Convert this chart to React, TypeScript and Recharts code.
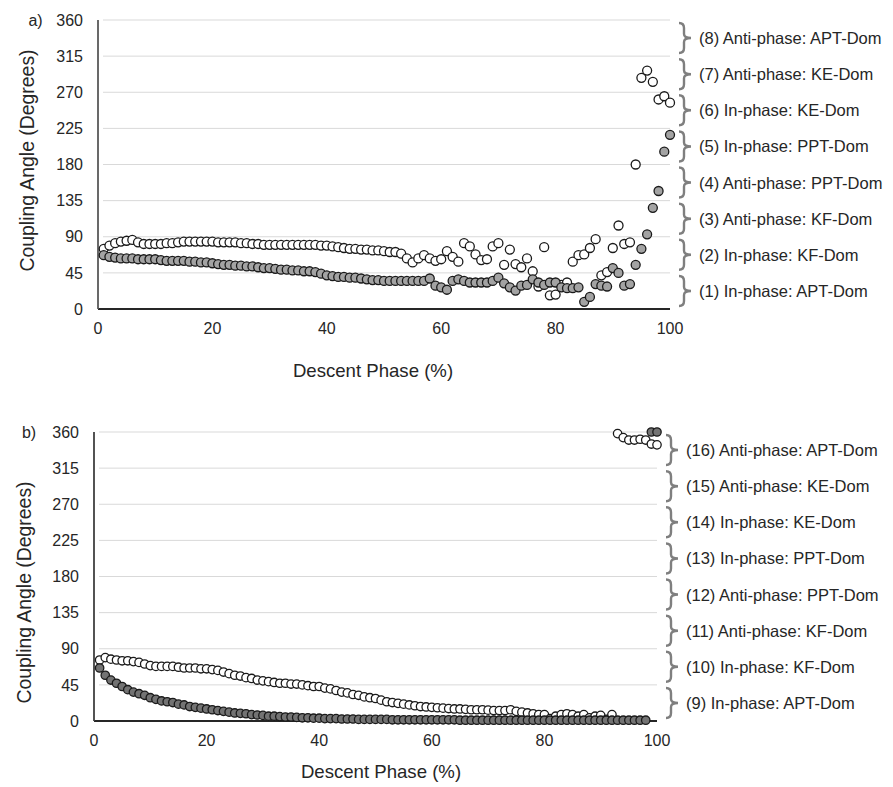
import { ScatterChart, Scatter, XAxis, YAxis, CartesianGrid, Label, ReferenceLine } from 'recharts';

// descent phase, 1% steps
const PHASE = Array.from({ length: 100 }, (_, i) => i + 1);

const PHASE_TICKS = [0, 20, 40, 60, 80, 100];
const ANGLE_TICKS = [0, 45, 90, 135, 180, 225, 270, 315, 360];
const BAND_MIDS = [22.5, 67.5, 112.5, 157.5, 202.5, 247.5, 292.5, 337.5];

const BANDS_A = [
  '(1) In-phase: APT-Dom',
  '(2) In-phase: KF-Dom',
  '(3) Anti-phase: KF-Dom',
  '(4) Anti-phase: PPT-Dom',
  '(5) In-phase: PPT-Dom',
  '(6) In-phase: KE-Dom',
  '(7) Anti-phase: KE-Dom',
  '(8) Anti-phase: APT-Dom',
];
const BANDS_B = [
  '(9) In-phase: APT-Dom',
  '(10) In-phase: KF-Dom',
  '(11) Anti-phase: KF-Dom',
  '(12) Anti-phase: PPT-Dom',
  '(13) In-phase: PPT-Dom',
  '(14) In-phase: KE-Dom',
  '(15) Anti-phase: KE-Dom',
  '(16) Anti-phase: APT-Dom',
];

// panel a
const WHITE_A = [
  75, 79, 82, 84, 85, 86, 83, 81, 81, 81,
  81, 82, 82, 83, 84, 84, 84, 84, 84, 84,
  83, 83, 83, 83, 82, 82, 81, 81, 80, 80,
  80, 80, 80, 80, 80, 80, 80, 80, 79, 79,
  78, 77, 76, 75, 75, 74, 74, 73, 73, 72,
  71, 71, 69, 63, 58, 63, 67, 63, 60, 62,
  72, 65, 59, 82, 78, 68, 61, 62, 78, 82,
  55, 74, 56, 52, 63, 47, 28, 77, 17, 18,
  30, 33, 59, 67, 68, 76, 87, 42, 46, 76,
  104, 81, 83, 180, 288, 297, 283, 261, 265, 257,
];
const GRAY_A = [
  67, 65, 64, 63, 63, 63, 62, 62, 62, 62,
  61, 60, 60, 60, 60, 59, 59, 58, 58, 57,
  56, 55, 55, 54, 54, 53, 53, 52, 51, 51,
  50, 49, 49, 48, 48, 47, 47, 46, 44, 42,
  41, 40, 40, 39, 39, 38, 37, 36, 36, 35,
  35, 35, 35, 35, 35, 35, 35, 38, 29, 27,
  24, 35, 37, 35, 33, 33, 33, 33, 35, 39,
  32, 27, 23, 29, 30, 37, 33, 30, 33, 33,
  27, 26, 26, 27, 9, 15, 31, 29, 28, 51,
  45, 29, 31, 55, 75, 93, 126, 147, 196, 217,
];

// panel b
const WHITE_B = [
  76, 79, 77, 76, 75, 75, 74, 73, 71, 69,
  68, 68, 68, 68, 67, 66, 66, 66, 65, 65,
  64, 63, 61, 59, 57, 56, 54, 53, 51, 50,
  49, 48, 47, 47, 46, 46, 45, 44, 43, 43,
  41, 40, 38, 36, 35, 33, 32, 30, 29, 28,
  26, 24, 23, 22, 21, 20, 19, 18, 17.5, 17,
  16.5, 16, 15.5, 15, 15, 14.5, 14, 14, 14, 13.5,
  13, 13, 13, 14, 12, 11, 10, 9, 8, 8,
  3, 6, 8, 9, 8, 6, 8, 4, 6, 7,
  2, 8, 358, 353, 350, 350, 351, 350, 345, 344,
];
const GRAY_B = [
  66, 57, 51, 47, 43, 39, 36, 34, 32, 29,
  27, 25, 24, 23, 21, 20, 18, 17, 16, 15,
  14, 13, 12, 11, 10, 9.5, 9, 8, 7.5, 7,
  6, 6, 5.5, 5, 5, 4.5, 4, 4, 3.5, 3.5,
  3, 3, 3, 2.5, 2.5, 2.5, 2, 2, 2, 2,
  2, 2, 1.5, 1.5, 1.5, 1.5, 1.5, 1.5, 1.5, 1.5,
  1.5, 1.5, 1.5, 1.5, 1, 1, 1, 1, 1, 1,
  1, 1, 1, 1, 1, 1, 1, 1, 1, 1,
  1, 1, 1, 1, 1, 1, 1, 1, 1, 1,
  1, 1, 1, 1, 1, 1, 1, 1, 360, 360,
];

const FONT = 'Liberation Sans, Arial, sans-serif';
const TEXT = '#262626';

const toPoints = (ys: number[]) => ys.map((angle, i) => ({ phase: PHASE[i], angle }));

function dot(r: number, fill: string) {
  return (p: any) => (
    <circle cx={p.cx} cy={p.cy} r={r} fill={fill} stroke="#1a1a1a" strokeWidth={1.3} />
  );
}

// curly brace + band name, hung off the right end of a band's mid line
function braceLabel(text: string) {
  return (p: any) => {
    const vb = p.viewBox;
    if (!vb) return null;
    const x = vb.x + vb.width;
    const y = vb.y;
    const h = 15;
    const x0 = x + 9;
    const xv = x + 14;
    const xt = x + 21;
    const d =
      `M${x0},${y - h} Q${xv},${y - h} ${xv},${y - h + 5} L${xv},${y - 4} ` +
      `Q${xv},${y} ${xt},${y} Q${xv},${y} ${xv},${y + 4} L${xv},${y + h - 5} ` +
      `Q${xv},${y + h} ${x0},${y + h}`;
    return (
      <g>
        <path d={d} fill="none" stroke="#7f7f7f" strokeWidth={2.4} />
        <text x={x + 29} y={y} dominantBaseline="central" fill={TEXT} fontSize={16.5} fontFamily={FONT}>
          {text}
        </text>
      </g>
    );
  };
}

interface PanelProps {
  tag: string;
  white: number[];
  gray: number[];
  grayFill: string;
  bands: string[];
  leftWidth: number;
  rightWidth: number;
  r: number;
  yTitleX: number;
  yTitleDy: number;
  xTitleDx: number;
  xTitleDy: number;
  tagX: number;
  yAxisColor: string;
}

function Panel({
  tag,
  white,
  gray,
  grayFill,
  bands,
  leftWidth,
  rightWidth,
  r,
  yTitleX,
  yTitleDy,
  xTitleDx,
  xTitleDy,
  tagX,
  yAxisColor,
}: PanelProps) {
  return (
    <ScatterChart width={893} height={400} margin={{ top: 20, right: rightWidth, left: 0, bottom: 21 }}>
      <CartesianGrid
        vertical={false}
        horizontal={(p: any) => (
          <line key={`g-${p.index}-${p.y1}`} x1={p.x1 + 5} y1={p.y1} x2={p.x2} y2={p.y2} stroke="#d9d9d9" strokeWidth={1} />
        )}
      />
      <XAxis
        type="number"
        dataKey="phase"
        domain={[0, 100]}
        ticks={PHASE_TICKS}
        interval={0}
        height={70}
        tickLine={false}
        tickSize={0}
        tickMargin={14}
        axisLine={{ stroke: '#262626', strokeWidth: 1.8 }}
        tick={{ fill: TEXT, fontSize: 16, fontFamily: FONT }}
      >
        <Label
          content={(p: any) => {
            const vb = p.viewBox || { x: 0, y: 0, width: 0 };
            return (
              <text
                x={vb.x + vb.width / 2 + xTitleDx}
                y={vb.y + xTitleDy}
                textAnchor="middle"
                dominantBaseline="central"
                fill={TEXT}
                fontSize={18.6}
                fontFamily={FONT}
              >
                Descent Phase (%)
              </text>
            );
          }}
        />
      </XAxis>
      <YAxis
        type="number"
        dataKey="angle"
        domain={[0, 360]}
        ticks={ANGLE_TICKS}
        interval={0}
        width={leftWidth}
        tickLine={false}
        tickSize={0}
        tickMargin={15}
        axisLine={{ stroke: yAxisColor, strokeWidth: 1.8 }}
        tick={{ fill: TEXT, fontSize: 16, fontFamily: FONT }}
      >
        <Label
          content={(p: any) => {
            const vb = p.viewBox || { x: 0, y: 0, height: 0 };
            const cy = vb.y + vb.height / 2 + yTitleDy;
            return (
              <g>
                <text
                  transform={`translate(${yTitleX},${cy}) rotate(-90)`}
                  textAnchor="middle"
                  dominantBaseline="central"
                  fill={TEXT}
                  fontSize={19.4}
                  fontFamily={FONT}
                >
                  Coupling Angle (Degrees)
                </text>
                <text
                  x={tagX}
                  y={vb.y}
                  textAnchor="middle"
                  dominantBaseline="central"
                  fill={TEXT}
                  fontSize={16}
                  fontFamily={FONT}
                >
                  {tag}
                </text>
              </g>
            );
          }}
        />
      </YAxis>
      {BAND_MIDS.map((mid, i) => (
        <ReferenceLine
          key={mid}
          y={mid}
          stroke="none"
          ifOverflow="visible"
          label={{ content: braceLabel(bands[i]) }}
        />
      ))}
      <Scatter data={toPoints(white)} shape={dot(r, '#ffffff')} isAnimationActive={false} />
      <Scatter data={toPoints(gray)} shape={dot(r, grayFill)} isAnimationActive={false} />
    </ScatterChart>
  );
}

export default function App() {
  return (
    <div style={{ position: 'absolute', left: 0, top: 0, width: 893, height: 787, background: '#fff' }}>
      <div style={{ position: 'absolute', left: 0, top: 0 }}>
        <Panel
          tag="a)"
          white={WHITE_A}
          gray={GRAY_A}
          grayFill="#a3a3a3"
          bands={BANDS_A}
          leftWidth={98}
          rightWidth={223}
          r={4.5}
          yTitleX={27}
          yTitleDy={-4}
          xTitleDx={-11}
          xTitleDy={61.5}
          tagX={35.5}
          yAxisColor="#595959"
        />
      </div>
      <div style={{ position: 'absolute', left: 0, top: 412 }}>
        <Panel
          tag="b)"
          white={WHITE_B}
          gray={GRAY_B}
          grayFill="#737373"
          bands={BANDS_B}
          leftWidth={94}
          rightWidth={236}
          r={4.2}
          yTitleX={23.5}
          yTitleDy={16}
          xTitleDx={5.5}
          xTitleDy={50.7}
          tagX={29}
          yAxisColor="#404040"
        />
      </div>
    </div>
  );
}
